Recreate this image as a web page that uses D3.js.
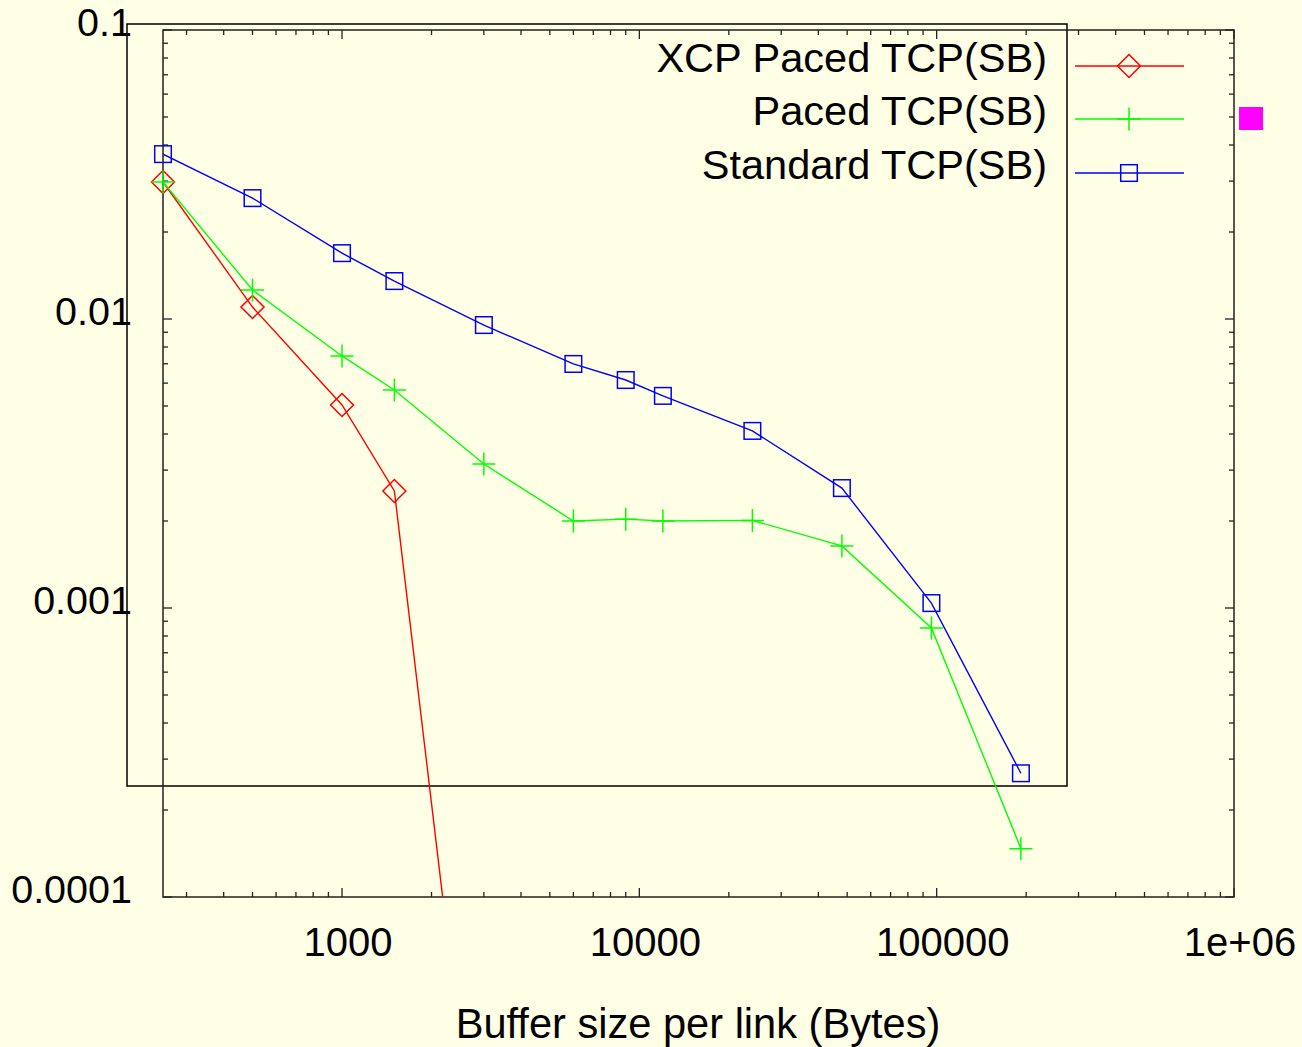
<!DOCTYPE html>
<html>
<head>
<meta charset="utf-8">
<script src="https://cdn.jsdelivr.net/npm/d3@7.9.0/dist/d3.min.js"></script>
<style>
  html, body { margin: 0; padding: 0; background: #ffffe6; }
  svg { display: block; font-family: "Liberation Sans", Arial, sans-serif; }
</style>
</head>
<body>
<svg id="chart" width="1302" height="1047"></svg>
<script>
// buffer sizes (x) and loss rates per series
const bufferSizes = [250, 500, 1000, 1500, 3000, 6000, 9000, 12000, 24000, 48000, 96000, 192000];
const xcpPaced = [0.0298, 0.0110, 0.00504, 0.00254, 0.0000063];
const pacedTcp = [0.0298, 0.0126, 0.00745, 0.00568, 0.00315, 0.00200, 0.00203, 0.00200, 0.00201, 0.00164, 0.000853, 0.000147];
const standardTcp = [0.0372, 0.0262, 0.0169, 0.01353, 0.00953, 0.00699, 0.00615, 0.00542, 0.00410, 0.00260, 0.00104, 0.000268];

const seriesNames = ['XCP Paced TCP(SB)', 'Paced TCP(SB)', 'Standard TCP(SB)'];
const seriesColors = ['#ff0000', '#00ff00', '#0000ff'];
const seriesMarkers = ['diamond', 'plus', 'square'];

const xTickLabels = ['1000', '10000', '100000', '1e+06'];
const yTickLabels = ['0.1', '0.01', '0.001', '0.0001'];

const svg = d3.select('#chart');
const plotLeft = 163, plotRight = 1234, plotTop = 30, plotBottom = 897;

let x = d3.scaleLog().domain([250, 1e6]).range([plotLeft, plotRight]);
let y = d3.scaleLog().domain([1e-4, 0.1]).range([plotBottom, plotTop]);

svg.append('defs').append('clipPath').attr('id', 'plotclip')
  .append('rect').attr('x', plotLeft).attr('y', plotTop)
  .attr('width', plotRight - plotLeft).attr('height', plotBottom - plotTop);

// odd box left over from the legend
svg.append('rect')
  .attr('x', 127).attr('y', 24).attr('width', 940).attr('height', 762)
  .attr('fill', 'none').attr('stroke', '#000').attr('stroke-width', 1.5);

// ticks, drawn inward on all four sides
const isMajor = (v) => Math.abs(Math.log10(v) - Math.round(Math.log10(v))) < 1e-9;
const ticks = svg.append('g').attr('stroke', '#222').attr('stroke-width', 1.3);

x.ticks().filter(v => v > 250).forEach(v => {
  let len = isMajor(v) ? 9 : 5;
  let px = x(v);
  ticks.append('line').attr('x1', px).attr('x2', px).attr('y1', plotBottom).attr('y2', plotBottom - len);
  ticks.append('line').attr('x1', px).attr('x2', px).attr('y1', plotTop).attr('y2', plotTop + len);
});
y.ticks().forEach(v => {
  let len = isMajor(v) ? 9 : 5;
  let py = y(v);
  ticks.append('line').attr('x1', plotLeft).attr('x2', plotLeft + len).attr('y1', py).attr('y2', py);
  ticks.append('line').attr('x1', plotRight).attr('x2', plotRight - len).attr('y1', py).attr('y2', py);
});

// frame
svg.append('rect')
  .attr('x', plotLeft).attr('y', plotTop)
  .attr('width', plotRight - plotLeft).attr('height', plotBottom - plotTop)
  .attr('fill', 'none').attr('stroke', '#222').attr('stroke-width', 1.5);

// tick labels
const xMajors = x.ticks().filter(isMajor);
xMajors.forEach((v, i) => {
  svg.append('text')
    .attr('x', x(v) + 6).attr('y', 956)
    .attr('text-anchor', 'middle').attr('font-size', 40)
    .text(xTickLabels[i]);
});
const yMajors = y.ticks().filter(isMajor).sort((a, b) => b - a);
yMajors.forEach((v, i) => {
  svg.append('text')
    .attr('x', 132).attr('y', y(v) + 6)
    .attr('text-anchor', 'end').attr('font-size', 39.5)
    .text(yTickLabels[i]);
});

svg.append('text')
  .attr('x', 698).attr('y', 1038)
  .attr('text-anchor', 'middle').attr('font-size', 41.6)
  .text('Buffer size per link (Bytes)');

// markers
function drawMarker(g, type, cx, cy, color) {
  if (type === 'diamond') {
    g.append('path')
      .attr('d', `M${cx},${cy - 11.5}L${cx + 11.5},${cy}L${cx},${cy + 11.5}L${cx - 11.5},${cy}Z`)
      .attr('fill', 'none').attr('stroke', color).attr('stroke-width', 1.5);
  } else if (type === 'plus') {
    g.append('path')
      .attr('d', `M${cx - 11.5},${cy}H${cx + 11.5}M${cx},${cy - 11.5}V${cy + 11.5}`)
      .attr('fill', 'none').attr('stroke', color).attr('stroke-width', 1.5);
  } else {
    g.append('rect')
      .attr('x', cx - 8.3).attr('y', cy - 8.3).attr('width', 16.6).attr('height', 16.6)
      .attr('fill', 'none').attr('stroke', color).attr('stroke-width', 1.5);
  }
}

let line = d3.line().x(d => x(d[0])).y(d => y(d[1]));
const allSeries = [xcpPaced, pacedTcp, standardTcp];

allSeries.forEach((vals, idx) => {
  let pts = vals.map((v, i) => [bufferSizes[i], v]);
  svg.append('path')
    .attr('clip-path', 'url(#plotclip)')
    .attr('d', line(pts))
    .attr('fill', 'none')
    .attr('stroke', seriesColors[idx])
    .attr('stroke-width', 1.4);
  let g = svg.append('g');
  pts.filter(p => p[1] >= 1e-4)
    .forEach(p => drawMarker(g, seriesMarkers[idx], x(p[0]), y(p[1]), seriesColors[idx]));
});

// legend
const legendRows = [66, 119, 173];
seriesNames.forEach((name, idx) => {
  let ly = legendRows[idx];
  svg.append('text')
    .attr('x', 1047).attr('y', ly + 6)
    .attr('text-anchor', 'end').attr('font-size', 41.5)
    .text(name);
  svg.append('line')
    .attr('x1', 1075).attr('x2', 1184).attr('y1', ly).attr('y2', ly)
    .attr('stroke', seriesColors[idx]).attr('stroke-width', 1.4);
  drawMarker(svg, seriesMarkers[idx], 1129, ly, seriesColors[idx]);
});

// stray magenta square on the right
svg.append('rect')
  .attr('x', 1239).attr('y', 107).attr('width', 24).attr('height', 23)
  .attr('fill', '#ff00ff');
</script>
</body>
</html>
